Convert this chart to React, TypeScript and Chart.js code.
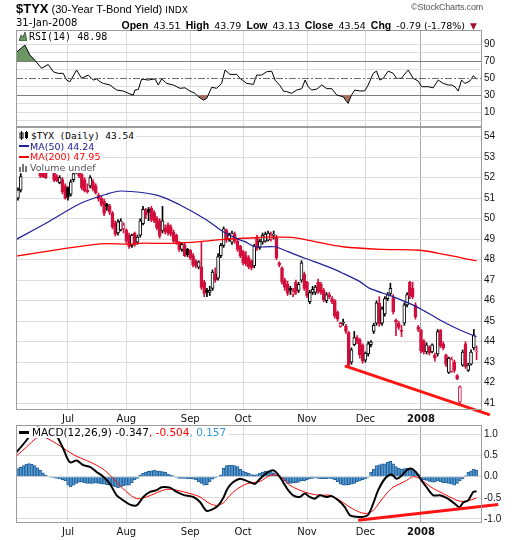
import React, { useEffect, useRef } from 'react';
import { Chart, registerables } from 'chart.js';

Chart.register(...registerables);

// ---------- data ----------
const monthTickIdx = [19, 40, 63, 82, 105, 126, 146];
const monthLabels = ['Jul', 'Aug', 'Sep', 'Oct', 'Nov', 'Dec', '2008'];
const yearTickIdx = 146;

const priceTicks = [41, 42, 43, 44, 45, 46, 47, 48, 49, 50, 51, 52, 53, 54];
const rsiTicks = [0, 10, 20, 30, 40, 50, 60, 70, 80, 90];
const rsiLabelled = [10, 30, 50, 70, 90];
const rsiBands = [30, 50, 70];
const macdTicks = [-1, -0.5, 0, 0.5, 1];

const opens = [
  50.8, 51.0, 51.4, 52.4, 52.9, 53.5, 53.1, 53.0, 52.6, 52.6,
  52.5, 52.5, 52.4, 52.7, 52.3, 52.05, 51.75, 51.9, 51.6, 51.5,
  51.2, 51.9, 52.3, 52.4, 52.15, 51.9, 51.4, 51.6, 51.8, 51.6,
  51.15, 51.0, 50.85, 50.7, 50.6, 50.27, 49.8, 49.3, 49.45, 49.5,
  49.45, 49.2, 48.7, 49.3, 48.85, 49.2, 49.75, 50.4, 50.45, 50.5,
  50.3, 50.0, 49.9, 49.4, 49.55, 49.7, 49.6, 49.35, 49.2, 48.85,
  48.5, 48.7, 48.5, 48.45, 48.2, 47.95, 47.64, 47.65, 46.9, 46.5,
  46.4, 46.6, 47.3, 47.1, 48.2, 48.7, 49.45, 49.0, 48.85, 49.25,
  48.9, 48.65, 48.4, 48.2, 48.1, 47.95, 47.7, 49.1, 48.6, 48.85,
  48.9, 48.95, 49.0, 49.2, 49.1, 47.85, 47.6, 47.0, 46.8, 46.6,
  46.3, 46.9, 46.5, 47.0, 47.3, 46.9, 45.95, 46.4, 46.4, 46.9,
  46.8, 46.5, 46.0, 46.3, 46.1, 46.0, 45.45, 44.75, 44.9, 44.75,
  44.45, 43.0, 43.85, 44.2, 44.1, 43.85, 43.1, 43.4, 43.85, 44.5,
  44.9, 45.9, 44.9, 45.35, 46.1, 46.35, 46.15, 45.05, 44.9, 44.55,
  44.9, 45.8, 46.9, 46.6, 45.8, 44.7, 44.55, 44.05, 43.5, 43.75,
  43.5, 43.35, 43.4, 44.55, 43.9, 43.35, 42.5, 42.55, 43.0, 42.35,
  41.05, 42.85, 43.9, 42.6, 42.9, 43.7, 43.51,
];
const highs = [
  51.1, 51.5, 52.2, 52.95, 53.6, 53.9, 53.3, 53.1, 52.8, 52.7,
  52.8, 52.6, 52.8, 52.9, 52.4, 52.15, 52.1, 52.0, 51.7, 51.55,
  51.9, 52.3, 52.5, 52.5, 52.2, 52.0, 51.7, 52.1, 51.9, 51.7,
  51.25, 51.1, 50.95, 50.75, 50.7, 50.35, 49.9, 49.95, 50.0, 49.8,
  49.5, 49.3, 49.25, 49.35, 49.2, 50.0, 50.6, 50.5, 50.55, 50.6,
  50.4, 50.1, 50.0, 50.6, 49.7, 49.8, 49.7, 49.45, 49.25, 48.9,
  48.85, 48.8, 48.55, 48.5, 48.3, 48.0, 47.95, 48.9, 47.0, 46.6,
  46.7, 47.5, 47.6, 48.3, 48.8, 49.6, 49.5, 49.3, 49.4, 49.35,
  49.0, 48.7, 48.45, 48.4, 48.2, 48.0, 48.75, 49.2, 49.0, 49.3,
  49.35, 49.4, 49.35, 49.4, 49.2, 47.9, 47.65, 47.1, 46.95, 46.7,
  46.6, 47.0, 46.9, 47.95, 47.4, 46.95, 46.5, 46.7, 46.75, 47.05,
  46.9, 46.6, 46.4, 46.4, 46.2, 46.05, 45.5, 44.95, 45.1, 44.85,
  44.5, 43.7, 44.5, 44.3, 44.15, 43.9, 43.5, 44.0, 44.05, 44.9,
  46.0, 46.2, 45.7, 46.2, 46.4, 46.85, 46.3, 45.1, 45.0, 44.8,
  45.9, 46.4, 46.95, 46.9, 45.9, 44.8, 44.6, 44.1, 43.95, 43.8,
  43.9, 43.45, 44.6, 44.6, 44.0, 43.4, 43.25, 43.25, 43.1, 42.4,
  41.85, 43.6, 44.0, 42.95, 43.6, 44.6, 43.79,
];
const lows = [
  50.6, 50.9, 51.3, 52.35, 52.8, 53.0, 52.8, 52.5, 52.4, 52.0,
  52.0, 51.95, 52.35, 52.4, 51.8, 51.8, 51.7, 51.2, 50.95, 50.9,
  51.1, 51.8, 52.2, 52.0, 51.4, 51.3, 51.25, 51.5, 51.35, 51.2,
  50.85, 50.6, 50.15, 50.4, 50.2, 49.5, 49.15, 49.2, 49.4, 49.3,
  48.8, 48.55, 48.6, 48.65, 48.75, 49.1, 49.7, 50.0, 49.9, 49.85,
  49.8, 49.45, 49.05, 49.3, 49.25, 49.2, 49.15, 48.8, 48.75, 48.4,
  48.4, 48.15, 48.15, 48.0, 47.65, 47.6, 47.55, 46.55, 46.2, 46.2,
  46.25, 46.5, 46.9, 47.0, 48.1, 48.6, 48.85, 48.9, 48.75, 48.8,
  48.4, 48.1, 47.75, 47.7, 47.55, 47.5, 47.6, 48.45, 48.5, 48.75,
  48.85, 48.9, 48.9, 49.0, 48.0, 47.65, 46.8, 46.5, 46.25, 46.3,
  46.2, 46.3, 46.4, 46.9, 46.5, 46.15, 45.85, 46.3, 46.3, 46.35,
  46.3, 45.95, 45.9, 46.1, 45.85, 45.15, 45.0, 44.7, 44.8, 44.4,
  42.75, 42.9, 43.8, 43.9, 43.2, 42.95, 43.0, 43.3, 43.75, 44.4,
  44.8, 44.75, 44.8, 45.25, 46.0, 46.25, 45.35, 44.3, 44.6, 44.25,
  44.8, 45.7, 46.1, 46.1, 45.1, 44.5, 43.45, 43.4, 43.4, 43.35,
  43.45, 43.05, 43.3, 43.7, 43.6, 42.8, 42.45, 42.5, 42.5, 42.15,
  40.95, 42.8, 42.7, 42.55, 42.85, 43.6, 43.13,
];
const closes = [
  50.95, 51.4, 52.05, 52.9, 53.5, 53.1, 53.0, 52.6, 52.5, 52.1,
  52.05, 52.0, 52.7, 52.5, 51.9, 51.85, 52.0, 51.3, 51.0, 51.05,
  51.8, 52.2, 52.4, 52.1, 51.5, 51.35, 51.3, 52.0, 51.45, 51.25,
  50.95, 50.7, 50.25, 50.6, 50.3, 49.6, 49.25, 49.85, 49.9, 49.7,
  48.9, 48.65, 49.2, 48.75, 49.1, 49.9, 50.45, 50.2, 50.3, 49.95,
  49.9, 49.55, 49.15, 49.9, 49.35, 49.3, 49.25, 48.9, 48.85, 48.5,
  48.75, 48.2, 48.25, 48.1, 47.75, 47.7, 47.9, 46.65, 46.35, 46.4,
  46.5, 47.4, 47.0, 48.15, 48.7, 49.5, 48.95, 49.2, 49.3, 48.9,
  48.5, 48.2, 47.85, 47.8, 47.65, 47.6, 48.65, 48.55, 48.9, 49.2,
  49.25, 49.3, 49.2, 49.25, 48.1, 47.75, 46.9, 46.65, 46.35, 46.5,
  46.45, 46.4, 46.8, 47.85, 46.6, 46.25, 46.4, 46.55, 46.67, 46.45,
  46.4, 46.05, 46.3, 46.2, 45.95, 45.25, 45.1, 44.9, 44.95, 44.5,
  42.85, 43.6, 44.2, 44.0, 43.35, 43.05, 43.45, 43.9, 44.0, 44.8,
  45.9, 44.85, 45.6, 46.1, 46.3, 46.6, 45.45, 44.95, 44.7, 44.5,
  45.8, 46.3, 46.25, 46.2, 45.2, 44.6, 43.55, 43.5, 43.85, 43.45,
  43.85, 43.2, 44.5, 43.8, 43.7, 42.9, 43.2, 43.15, 42.6, 42.2,
  41.8, 43.5, 42.8, 42.86, 43.5, 44.33, 43.54,
];

const ma50Idx = [0, 11.4, 23.6, 33, 38, 50.9, 59.3, 68.9, 74.7, 80.9, 82.7, 86.3, 93.4, 98.1, 104.2, 112.5, 118, 124, 127.6, 135.9, 144.5, 152.8, 160, 166];
const ma50Val = [48.96, 49.8, 50.75, 51.2, 51.35, 51.15, 50.67, 49.94, 49.37, 48.96, 48.88, 48.63, 48.63, 48.39, 48.07, 47.66, 47.33, 46.93, 46.6, 46.2, 45.7, 45.06, 44.57, 44.24];

const ma200Idx = [0, 30.5, 41.3, 44.5, 56.8, 66.5, 76.2, 86.3, 88, 99.6, 106, 117.9, 132.3, 145.6, 155.3, 164.7, 166];
const ma200Val = [48.17, 48.77, 48.75, 48.8, 48.8, 48.88, 49.0, 49.07, 49.09, 49.09, 48.93, 48.63, 48.5, 48.46, 48.23, 47.98, 47.95];

const rsiIdx = [0, 3.5, 5.3, 7.1, 9.5, 11.9, 13.7, 15.5, 17.3, 18.5, 19.7, 22.1, 23.9, 26.3, 28.1, 29.3, 30.5, 31.7, 34.1, 36.5, 38.9, 41.3, 42.5, 43.1, 44.3, 45.5, 47.9, 50.3, 51.5, 52.7, 54.5, 56.9, 59.3, 61.1, 62.9, 64.7, 65.9, 67.7, 68.9, 70.7, 72.5, 74.3, 75.5, 77.3, 79.7, 80.9, 83.3, 85.7, 86.9, 88.7, 90.5, 92.3, 93.5, 95.3, 96.5, 97.7, 99.5, 101.3, 103.1, 104.3, 105.4, 106.7, 108.5, 110.3, 112.1, 113.9, 115.7, 118, 119.8, 121, 122.2, 124, 125.8, 127, 128.8, 130, 131.2, 132.4, 134.2, 136, 137.2, 139, 139.6, 141.4, 143.2, 145, 146.2, 148.6, 150.4, 152.2, 154, 155.8, 157, 158.2, 159.4, 160.6, 161.8, 163.6, 164.8, 166];
const rsiVal = [79, 88.8, 77, 71, 61.4, 66, 57.4, 55.5, 55.5, 47.6, 45.7, 59.4, 49.6, 53.5, 47.6, 49, 45.7, 43.7, 41.8, 35.9, 34.7, 31.2, 30, 35.9, 36.5, 48.8, 47.6, 49, 41.8, 49, 43.7, 41.8, 37.9, 38.5, 34.7, 32, 28, 24.1, 26, 39, 38, 43.7, 59.4, 54.3, 54.3, 49.6, 43.7, 42.5, 53.5, 53.5, 57.4, 58, 47.6, 41, 34.7, 34, 32, 35.9, 37.5, 47.6, 39.8, 35.9, 37, 41.8, 37.5, 37.5, 30, 28, 20.2, 30, 35.9, 34.7, 35, 41.8, 55.5, 58.2, 47.6, 49.6, 58.2, 55.5, 49.6, 49.6, 52.6, 59.4, 49.6, 46.5, 39.8, 39.8, 38.5, 47.6, 43.7, 41.8, 41.8, 39.8, 34.7, 47.6, 43.7, 46.5, 52.7, 48.98];

const macdIdx = [0, 0.5, 4.1, 6.5, 8.2, 10.7, 13.7, 15.5, 17.3, 19.7, 22.1, 24.5, 26.9, 29.3, 31.7, 34.1, 36.5, 38.9, 41.3, 43.7, 46.1, 48.5, 50.9, 52.7, 55.7, 58.1, 60.5, 64.1, 66.5, 68.9, 71.3, 73.1, 74.9, 76.1, 77.3, 79.1, 80.9, 82.1, 84.5, 86.3, 88.1, 90.5, 92.8, 94.6, 96.4, 98.2, 100, 102.4, 104.2, 106, 107.8, 109.6, 112, 113.8, 116.2, 118.6, 120.4, 122.8, 125.2, 127, 128.8, 130.6, 133, 135.4, 137.2, 139, 140.8, 142.6, 144.4, 146.2, 148, 150.4, 152.8, 155.2, 157.6, 159.8, 161.2, 163, 164.8, 166];
const macdVal = [0.55, 0.58, 0.86, 1.09, 1.16, 1.09, 1.09, 0.9, 0.66, 0.34, 0.38, 0.27, 0.23, 0.11, 0.0, -0.17, -0.44, -0.56, -0.66, -0.68, -0.48, -0.36, -0.32, -0.25, -0.26, -0.36, -0.43, -0.48, -0.6, -0.81, -0.76, -0.68, -0.5, -0.32, -0.2, -0.1, -0.05, -0.07, -0.13, -0.17, -0.05, 0.09, 0.15, 0.05, -0.13, -0.32, -0.44, -0.48, -0.4, -0.48, -0.52, -0.44, -0.48, -0.46, -0.56, -0.72, -0.91, -0.95, -0.95, -0.9, -0.64, -0.32, -0.05, 0.05, -0.05, 0.02, 0.15, 0.19, 0.09, -0.09, -0.25, -0.44, -0.44, -0.5, -0.61, -0.72, -0.61, -0.56, -0.36, -0.347];

const signalIdx = [0, 0.5, 4.1, 7.7, 10.1, 14.9, 18.5, 21.5, 25.7, 29.3, 32.9, 36.5, 40.1, 43.7, 47.3, 50.9, 54.5, 58.1, 62.9, 66.5, 70.1, 72.5, 74.9, 77.3, 79.7, 83.3, 88.1, 91.7, 94.1, 96.4, 98.8, 102.4, 106, 109.6, 113.2, 116.8, 120.4, 124, 126.4, 128.8, 131.2, 133.6, 136, 138.4, 140.8, 143.2, 145.6, 148, 150.4, 154, 157.6, 160, 162.4, 166];
const signalVal = [0.46, 0.49, 0.7, 0.91, 0.94, 0.78, 0.62, 0.5, 0.38, 0.27, 0.11, -0.13, -0.36, -0.52, -0.48, -0.38, -0.3, -0.32, -0.4, -0.48, -0.64, -0.68, -0.62, -0.44, -0.3, -0.17, -0.11, 0.03, 0.03, -0.05, -0.2, -0.32, -0.4, -0.44, -0.44, -0.56, -0.72, -0.84, -0.87, -0.8, -0.6, -0.4, -0.25, -0.17, -0.09, 0.0, -0.05, -0.17, -0.28, -0.4, -0.52, -0.58, -0.58, -0.504];

const histVal = [
  0.17, 0.19, 0.22, 0.26, 0.29, 0.31, 0.29, 0.26, 0.21, 0.15,
  0.09, 0.03, 0.01, -0.01, -0.03, -0.04, -0.05, -0.07, -0.1, -0.2,
  -0.24, -0.2, -0.16, -0.13, -0.13, -0.14, -0.16, -0.16, -0.16, -0.15,
  -0.16, -0.17, -0.18, -0.19, -0.2, -0.22, -0.24, -0.26, -0.25, -0.22,
  -0.2, -0.2, -0.14, -0.08, -0.04, 0.04, 0.08, 0.11, 0.13, 0.14,
  0.15, 0.14, 0.13, 0.12, 0.1, 0.06, 0.04, 0.02, -0.02, -0.04,
  -0.04, -0.04, -0.05, -0.05, -0.06, -0.08, -0.12, -0.16, -0.2, -0.19,
  -0.12, -0.06, -0.03, 0.01, 0.04, 0.2, 0.26, 0.27, 0.27, 0.26,
  0.24, 0.17, 0.13, 0.1, 0.08, 0.05, 0.04, 0.05, 0.08, 0.11,
  0.13, 0.13, 0.12, 0.09, 0.05, 0.02, -0.04, -0.1, -0.16, -0.16,
  -0.15, -0.14, -0.13, -0.1, -0.1, -0.07, -0.05, -0.04, -0.03, -0.04,
  -0.05, -0.05, -0.05, -0.04, -0.05, -0.08, -0.12, -0.18, -0.2, -0.2,
  -0.19, -0.18, -0.16, -0.12, -0.1, -0.07, -0.05, -0.02, 0.1, 0.18,
  0.26, 0.28, 0.3, 0.3, 0.34, 0.36, 0.3, 0.24, 0.2, 0.18,
  0.19, 0.2, 0.2, 0.17, 0.12, 0.05, -0.04, -0.07, -0.09, -0.11,
  -0.13, -0.13, -0.1, -0.12, -0.14, -0.15, -0.16, -0.18, -0.2, -0.16,
  -0.1, -0.05, 0.02, 0.1, 0.14, 0.17, 0.157,
];

// hand-drawn trend lines (annotations)
const priceTrendIdx = [118.6, 170.8];
const priceTrendVal = [42.82, 40.43];
const macdTrendIdx = [123.4, 173.8];
const macdTrendVal = [-1.03, -0.66];

// ---------- styling / layout ----------
const X_MIN = 0.3;
const X_MAX = 167.95;
const RED = '#d20f3c';
const GRID = '#dcdcdc';
const FRAME = '#9c9c9c';

const pts = (xs: number[], ys: number[]) => xs.map((x, k) => ({ x, y: ys[k] }));

const panelFrame = {
  id: 'panelFrame',
  afterDraw(chart: any) {
    const { ctx, chartArea: a } = chart;
    ctx.save();
    ctx.strokeStyle = FRAME;
    ctx.lineWidth = 1;
    ctx.setLineDash([]);
    ctx.strokeRect(Math.round(a.left) + 0.5, Math.round(a.top) + 0.5, Math.round(a.right - a.left) - 1, Math.round(a.bottom - a.top) - 1);
    ctx.restore();
  },
};

const rsiMidLine = {
  id: 'rsiMidLine',
  afterDatasetsDraw(chart: any) {
    const { ctx, chartArea: a, scales } = chart;
    const py = Math.round(scales.y.getPixelForValue(rsiBands[1])) + 0.5;
    ctx.save();
    ctx.strokeStyle = '#6e6e6e';
    ctx.lineWidth = 1;
    ctx.setLineDash([7, 2, 2, 2]);
    ctx.beginPath();
    ctx.moveTo(a.left, py);
    ctx.lineTo(a.right, py);
    ctx.stroke();
    ctx.restore();
  },
};

function xScale(labelColor: string) {
  return {
    type: 'linear',
    display: true,
    min: X_MIN,
    max: X_MAX,
    offset: false,
    afterBuildTicks: (s: any) => {
      s.ticks = monthTickIdx.map((v) => ({ value: v }));
    },
    afterFit: (s: any) => {
      s.height = 16;
    },
    grid: {
      color: (c: any) => (c.tick && c.tick.value === yearTickIdx ? '#a8a8a8' : GRID),
      drawTicks: false,
      offset: false,
    },
    border: { display: false },
    ticks: {
      display: true,
      autoSkip: false,
      maxRotation: 0,
      padding: 3,
      color: labelColor,
      font: (c: any) => ({
        family: 'DejaVu Sans',
        size: 10,
        weight: c.tick && c.tick.value === yearTickIdx ? 'bold' : 'normal',
      }),
      callback: (v: any) => {
        const k = monthTickIdx.indexOf(v);
        return k >= 0 ? monthLabels[k] : '';
      },
    },
  };
}

function yScale(min: number, max: number, ticksArr: number[], label: (v: number) => string, gridColor: any) {
  return {
    type: 'linear',
    display: true,
    position: 'right',
    min,
    max,
    afterBuildTicks: (s: any) => {
      s.ticks = ticksArr.map((v) => ({ value: v }));
    },
    afterFit: (s: any) => {
      s.width = 38;
    },
    grid: { color: gridColor, drawTicks: false },
    border: { display: false },
    ticks: {
      autoSkip: false,
      padding: 2,
      color: '#111',
      font: { family: 'Liberation Sans', size: 10 },
      callback: (v: any) => label(v),
    },
  };
}

const baseOptions = () => ({
  responsive: false,
  maintainAspectRatio: false,
  animation: false,
  devicePixelRatio: 1,
  events: [],
  layout: { padding: { left: 16, right: 0, top: 10, bottom: 0 } },
  plugins: { legend: { display: false }, tooltip: { enabled: false }, title: { display: false } },
});

export default function App() {
  const rsiRef = useRef<HTMLCanvasElement>(null);
  const mainRef = useRef<HTMLCanvasElement>(null);
  const macdRef = useRef<HTMLCanvasElement>(null);

  useEffect(() => {
    const idx = closes.map((_, i) => i);
    const candleColor = closes.map((c, i) => (c >= (i ? closes[i - 1] : opens[i]) ? '#000000' : RED));
    const bodyFill = closes.map((c, i) => (c > opens[i] ? '#ffffff' : candleColor[i]));

    const rsiGrid = (c: any) => {
      const v = c.tick ? c.tick.value : null;
      if (v === rsiBands[1]) return 'rgba(255,255,255,0)';
      if (v === rsiBands[0] || v === rsiBands[2]) return '#7c7c7c';
      return GRID;
    };

    const rsiChart = new Chart(rsiRef.current as HTMLCanvasElement, {
      type: 'bar',
      data: {
        datasets: [
          {
            type: 'line',
            data: pts(rsiIdx, rsiVal),
            borderColor: '#000',
            borderWidth: 1,
            pointRadius: 0,
            tension: 0,
            fill: { target: { value: rsiBands[2] }, above: 'rgb(108,150,100)', below: 'rgba(255,255,255,0)' },
            order: 1,
          },
          {
            type: 'line',
            data: pts(rsiIdx, rsiVal),
            borderColor: 'rgba(255,255,255,0)',
            borderWidth: 1,
            pointRadius: 0,
            tension: 0,
            fill: { target: { value: rsiBands[0] }, above: 'rgba(255,255,255,0)', below: 'rgb(168,112,100)' },
            order: 2,
          },
        ],
      },
      options: {
        ...baseOptions(),
        scales: {
          x: xScale('rgba(255,255,255,0)'),
          y: yScale(-7.6, 106.5, rsiTicks, (v) => (rsiLabelled.indexOf(v) >= 0 ? String(v) : ''), rsiGrid),
        },
      } as any,
      plugins: [rsiMidLine, panelFrame],
    } as any);

    const mainChart = new Chart(mainRef.current as HTMLCanvasElement, {
      type: 'bar',
      data: {
        datasets: [
          {
            type: 'bar',
            data: idx.map((i) => ({ x: i, y: [lows[i], highs[i]] })),
            backgroundColor: candleColor,
            borderWidth: 0,
            barThickness: 1,
            grouped: false,
            order: 4,
          },
          {
            type: 'bar',
            data: idx.map((i) => ({ x: i, y: [opens[i], closes[i]] })),
            backgroundColor: bodyFill,
            borderColor: candleColor,
            borderWidth: 1,
            borderSkipped: false,
            barThickness: 3,
            grouped: false,
            order: 3,
          },
          {
            type: 'line',
            data: pts(ma200Idx, ma200Val),
            borderColor: '#ff0000',
            borderWidth: 1.3,
            pointRadius: 0,
            tension: 0.3,
            order: 2,
          },
          {
            type: 'line',
            data: pts(ma50Idx, ma50Val),
            borderColor: '#20209a',
            borderWidth: 1.2,
            pointRadius: 0,
            tension: 0.3,
            order: 1,
          },
          {
            type: 'line',
            data: pts(priceTrendIdx, priceTrendVal),
            borderColor: '#ff1414',
            borderWidth: 3,
            pointRadius: 0,
            clip: false,
            order: 0,
          },
        ],
      },
      options: {
        ...baseOptions(),
        scales: {
          x: xScale('#111'),
          y: yScale(40.67, 54.47, priceTicks, (v) => String(v), GRID),
        },
      } as any,
      plugins: [panelFrame],
    } as any);

    const macdChart = new Chart(macdRef.current as HTMLCanvasElement, {
      type: 'bar',
      data: {
        datasets: [
          {
            type: 'bar',
            data: idx.map((i) => ({ x: i, y: histVal[i] })),
            backgroundColor: '#5b9ed3',
            borderColor: '#22609a',
            borderWidth: 1,
            barPercentage: 1,
            categoryPercentage: 1,
            order: 3,
          },
          {
            type: 'line',
            data: pts(signalIdx, signalVal),
            borderColor: '#ff0000',
            borderWidth: 1,
            pointRadius: 0,
            tension: 0.3,
            order: 2,
          },
          {
            type: 'line',
            data: pts(macdIdx, macdVal),
            borderColor: '#000000',
            borderWidth: 2,
            pointRadius: 0,
            tension: 0.3,
            order: 1,
          },
          {
            type: 'line',
            data: pts(macdTrendIdx, macdTrendVal),
            borderColor: '#ff1414',
            borderWidth: 3,
            pointRadius: 0,
            clip: false,
            order: 0,
          },
        ],
      },
      options: {
        ...baseOptions(),
        scales: {
          x: xScale('#111'),
          y: yScale(-1.095, 1.22, macdTicks, (v) => v.toFixed(1), GRID),
        },
      } as any,
      plugins: [panelFrame],
    } as any);

    return () => {
      rsiChart.destroy();
      mainChart.destroy();
      macdChart.destroy();
    };
  }, []);

  const canvasStyle = (top: number, h: number, z: number): React.CSSProperties => ({
    position: 'absolute',
    left: 0,
    top,
    width: 520,
    height: h,
    zIndex: z,
  });

  const legendRow = (top: number): React.CSSProperties => ({
    position: 'absolute',
    zIndex: 5,
    left: 17,
    top,
    height: 11,
    lineHeight: '11px',
    background: '#fff',
    paddingLeft: 2,
    paddingRight: 2,
    whiteSpace: 'nowrap',
    display: 'flex',
    alignItems: 'center',
  });

  const dash = (color: string, h: number): React.CSSProperties => ({
    display: 'inline-block',
    width: 10,
    height: h,
    background: color,
    marginRight: 1,
  });

  const num: React.CSSProperties = { font: '9.5px "DejaVu Sans"' };
  const lab: React.CSSProperties = { font: 'bold 10.5px "Liberation Sans"' };
  const txt = (top: number): React.CSSProperties => ({ position: 'absolute', zIndex: 5, top, whiteSpace: 'nowrap' });

  return (
    <div style={{ position: 'absolute', left: 0, top: 0, width: 520, height: 540, background: '#fff', fontFamily: '"DejaVu Sans"', color: '#000', overflow: 'hidden' }}>
      <canvas ref={macdRef} width={520} height={124} style={canvasStyle(415, 124, 1)} />
      <canvas ref={mainRef} width={520} height={309} style={canvasStyle(117, 309, 2)} />
      <canvas ref={rsiRef} width={520} height={123} style={canvasStyle(20, 123, 3)} />

      {/* header */}
      <div style={{ ...txt(0), left: 16, lineHeight: '16px' }}>
        <span style={{ font: 'bold 13px "Liberation Sans"' }}>$TYX</span>
        <span style={{ font: '11px "Liberation Sans"' }}> (30-Year T-Bond Yield) </span>
        <span style={{ font: '9px "DejaVu Sans"' }}>INDX</span>
      </div>
      <div style={{ ...txt(2), right: 37, lineHeight: '14px', font: '9px "Liberation Sans"', color: '#555', letterSpacing: '-0.2px' }}>
        ©StockCharts.com
      </div>
      <div style={{ ...txt(17), left: 16, lineHeight: '13px', font: '10px "DejaVu Sans"' }}>31-Jan-2008</div>
      <div style={{ ...txt(17), right: 43, lineHeight: '13px' }}>
        <span style={lab}>Open</span> <span style={num}>43.51</span> <span style={lab}>High</span>{' '}
        <span style={num}>43.79</span> <span style={lab}>Low</span> <span style={num}>43.13</span>{' '}
        <span style={lab}>Close</span> <span style={num}>43.54</span> <span style={lab}>Chg</span>{' '}
        <span style={num}>-0.79 (-1.78%)</span> <span style={{ font: '9px "DejaVu Sans"', color: '#a0102a' }}>▼</span>
      </div>

      {/* RSI legend */}
      <div style={{ ...legendRow(31), font: '10px "DejaVu Sans Mono"' }}>
        <svg width="8" height="9" style={{ marginRight: 2 }}>
          <polygon points="0,9 2,3 4,5 6,0 8,9" fill="rgb(108,150,100)" stroke="#2d4d2d" strokeWidth="0.8" />
        </svg>
        RSI(14) 48.98
      </div>

      {/* price legend */}
      <div style={{ ...legendRow(129.5), font: '9.5px "DejaVu Sans Mono"' }}>
        <svg width="10" height="9" style={{ marginRight: 2 }}>
          <rect x="1" y="2" width="3" height="5" fill="#fff" stroke="#000" strokeWidth="1" />
          <line x1="2.5" y1="0" x2="2.5" y2="9" stroke="#000" />
          <rect x="6" y="1" width="3" height="6" fill="#000" />
          <line x1="7.5" y1="0" x2="7.5" y2="8" stroke="#000" />
        </svg>
        $TYX (Daily) 43.54
      </div>
      <div style={{ ...legendRow(140.5), font: '9.5px "DejaVu Sans"', color: '#20209a' }}>
        <span style={dash('#20209a', 2)} />MA(50) 44.24
      </div>
      <div style={{ ...legendRow(151), font: '9.5px "DejaVu Sans"', color: '#ff0000' }}>
        <span style={dash('#ff0000', 2)} />MA(200) 47.95
      </div>
      <div style={{ ...legendRow(162), font: '9.5px "DejaVu Sans"', color: '#555' }}>
        <svg width="10" height="9" style={{ marginRight: 1 }}>
          <rect x="0" y="4" width="2" height="5" fill="#777" />
          <rect x="3" y="1" width="2" height="8" fill="#777" />
          <rect x="6" y="3" width="2" height="6" fill="#777" />
        </svg>
        Volume undef
      </div>

      {/* MACD legend */}
      <div style={{ ...legendRow(426.5), font: '10.5px "DejaVu Sans"' }}>
        <span style={dash('#000', 3)} />
        <span style={{ marginLeft: 2 }}>MACD(12,26,9) -0.347</span>
        <span style={{ color: '#ff0000' }}>, -0.504</span>
        <span style={{ color: '#2e9bd6' }}>, 0.157</span>
      </div>
    </div>
  );
}
